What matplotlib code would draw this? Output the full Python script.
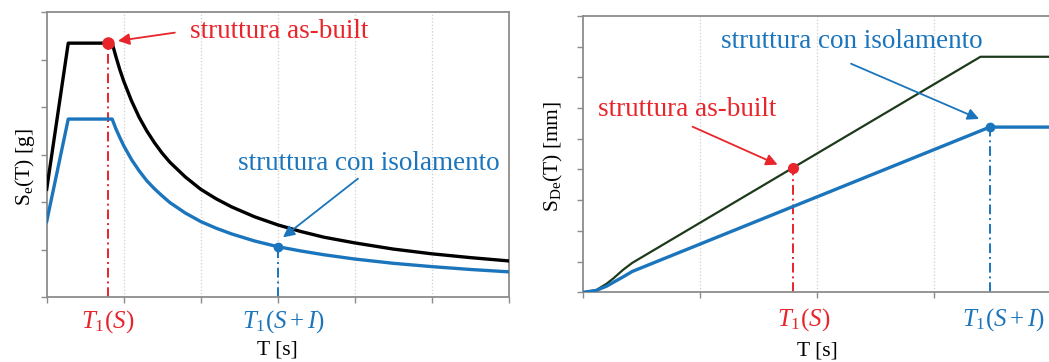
import matplotlib.pyplot as plt
from matplotlib.transforms import blended_transform_factory

plt.rcParams['font.family'] = ['Liberation Serif', 'DejaVu Serif']
plt.rcParams['mathtext.fontset'] = 'custom'
plt.rcParams['mathtext.rm'] = 'Liberation Serif'
plt.rcParams['mathtext.it'] = 'Liberation Serif:italic'

RED = '#e8252b'
BLUE = '#1b75bc'
GREEN = '#1d3b1b'
GRAY = '#8c8c8c'

# --- elastic acceleration spectrum (left) ---
T_se = [0.0, 0.28, 0.85, 0.9, 0.95, 1.0, 1.1, 1.2, 1.3, 1.4, 1.5, 1.6, 1.8,
        2.0, 2.2, 2.4, 2.7, 3.0, 3.3, 3.6, 4.0, 4.5, 5.0, 5.5, 6.0]
se_asbuilt = [2.27, 5.35, 5.35, 5.06, 4.79, 4.55, 4.14, 3.79, 3.50, 3.25,
              3.03, 2.84, 2.53, 2.27, 2.07, 1.90, 1.69, 1.52, 1.38, 1.26,
              1.14, 1.01, 0.91, 0.83, 0.76]
se_iso = [1.59, 3.75, 3.75, 3.54, 3.36, 3.19, 2.90, 2.66, 2.45, 2.28,
          2.13, 1.99, 1.77, 1.59, 1.45, 1.33, 1.18, 1.06, 0.97, 0.89,
          0.80, 0.71, 0.64, 0.58, 0.53]
T1_S_left, se_T1_S = 0.79, 5.35
T1_SI_left, se_T1_SI = 3.0, 1.06

# --- displacement spectrum (right) ---
T_sd_ab = [0.0, 0.11, 0.2, 0.26, 0.34, 0.42, 3.40, 4.0]
sd_asbuilt = [0.0, 0.07, 0.28, 0.46, 0.73, 0.96, 7.67, 7.67]
T_sd_iso = [0.0, 0.11, 0.2, 0.26, 0.34, 0.42, 3.48, 4.0]
sd_iso = [0.0, 0.06, 0.20, 0.33, 0.50, 0.68, 5.38, 5.38]
T1_S_right, sd_T1_S = 1.794, 4.04
T1_SI_right, sd_T1_SI = 3.48, 5.38

tick_label_S = r'$T_1(S)$'
tick_label_SI = r'$T_1(S+I)$'


def style_axes(ax, xmax, ymax):
    ax.set_xlim(0, xmax)
    ax.set_ylim(0, ymax)
    ax.set_xticks(range(0, xmax + 1))
    ax.set_yticks(range(0, ymax + 1))
    ax.set_xticklabels([])
    ax.set_yticklabels([])
    ax.tick_params(length=4, width=1, color=GRAY)
    for s in ax.spines.values():
        s.set_color(GRAY)
        s.set_linewidth(1.3)
    for x in range(1, xmax):
        ax.axvline(x, color='#cfcfcf', linestyle=':', linewidth=0.9, zorder=0)


fig = plt.figure(figsize=(10.49, 3.62), dpi=100)
ax1 = fig.add_axes([0.0445, 0.1796, 0.4405, 0.7864])
ax2 = fig.add_axes([0.556, 0.1925, 0.4455, 0.7635])

dashdot = (0, (5, 2, 1, 2))
arrow_kw = dict(arrowstyle='-|>', lw=1.3, mutation_scale=17)

# left panel
style_axes(ax1, 6, 6)
ax1.plot(T_se, se_asbuilt, color='black', lw=2.4, zorder=3)
ax1.plot(T_se, se_iso, color=BLUE, lw=2.4, zorder=3)
ax1.plot([T1_S_left, T1_S_left], [0, se_T1_S], color=RED, lw=1.4,
         linestyle=dashdot, zorder=2)
ax1.plot([T1_SI_left, T1_SI_left], [0, se_T1_SI], color=BLUE, lw=1.4,
         linestyle=dashdot, zorder=2)
ax1.plot(T1_S_left, se_T1_S, 'o', color=RED, ms=8, zorder=4)
ax1.plot(T1_SI_left, se_T1_SI, 'o', color=BLUE, ms=6, zorder=4)
ax1.text(1.86, 5.6, 'struttura as-built', color=RED, fontsize=19.5, va='center')
ax1.annotate('', xy=(0.89, 5.39), xytext=(1.70, 5.58),
             arrowprops=dict(color=RED, **arrow_kw))
ax1.text(2.48, 2.82, 'struttura con isolamento', color=BLUE, fontsize=19.5,
         va='center')
ax1.annotate('', xy=(3.04, 1.22), xytext=(4.07, 2.53),
             arrowprops=dict(color=BLUE, **arrow_kw))
tr1 = blended_transform_factory(ax1.transData, ax1.transAxes)
ax1.text(T1_S_left, -0.085, tick_label_S, color=RED, fontsize=18,
         ha='center', va='center', transform=tr1)
ax1.text(T1_SI_left + 0.07, -0.085, tick_label_SI, color=BLUE, fontsize=18,
         ha='center', va='center', transform=tr1)
ax1.set_xlabel('T [s]', fontsize=15.5, labelpad=24)
ax1.set_ylabel(r'S$_\mathrm{e}$(T) [g]', fontsize=15.5)
ax1.yaxis.set_label_coords(-0.021, 0.455)

# right panel
style_axes(ax2, 4, 9)
ax2.plot(T_sd_ab, sd_asbuilt, color=GREEN, lw=1.6, zorder=3)
ax2.plot(T_sd_iso, sd_iso, color=BLUE, lw=2.4, zorder=3)
ax2.plot([T1_S_right, T1_S_right], [0, sd_T1_S], color=RED, lw=1.4,
         linestyle=dashdot, zorder=2)
ax2.plot([T1_SI_right, T1_SI_right], [0, sd_T1_SI], color=BLUE, lw=1.4,
         linestyle=dashdot, zorder=2)
ax2.plot(T1_S_right, sd_T1_S, 'o', color=RED, ms=7, zorder=4)
ax2.plot(T1_SI_right, sd_T1_SI, 'o', color=BLUE, ms=6, zorder=4)
ax2.text(0.123, 5.94, 'struttura as-built', color=RED, fontsize=19.5,
         va='center')
ax2.annotate('', xy=(1.685, 4.12), xytext=(0.914, 5.43),
             arrowprops=dict(color=RED, **arrow_kw))
ax2.text(1.18, 8.16, 'struttura con isolamento', color=BLUE, fontsize=19.5,
         va='center')
ax2.annotate('', xy=(3.41, 5.61), xytext=(2.27, 7.48),
             arrowprops=dict(color=BLUE, **arrow_kw))
tr2 = blended_transform_factory(ax2.transData, ax2.transAxes)
ax2.text(T1_S_right + 0.09, -0.1, tick_label_S, color=RED, fontsize=18,
         ha='center', va='center', transform=tr2)
ax2.text(T1_SI_right + 0.12, -0.1, tick_label_SI, color=BLUE, fontsize=18,
         ha='center', va='center', transform=tr2)
ax2.set_xlabel('T [s]', fontsize=15.5, labelpad=28)
ax2.set_ylabel(r'S$_\mathrm{De}$(T) [mm]', fontsize=15.5)
ax2.yaxis.set_label_coords(-0.039, 0.49)

fig.savefig('out.png', dpi=100)
